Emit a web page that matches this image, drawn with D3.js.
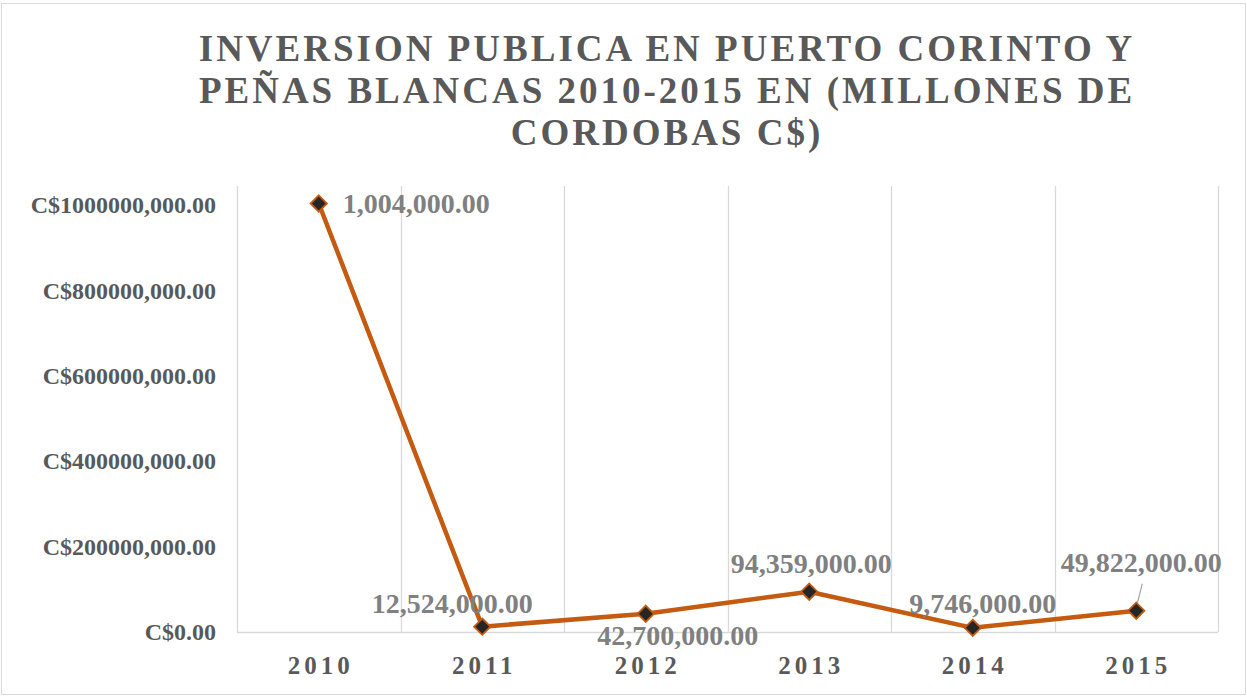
<!DOCTYPE html>
<html>
<head>
<meta charset="utf-8">
<script src="https://cdn.jsdelivr.net/npm/d3@7"></script>
<style>
  html, body { margin: 0; padding: 0; background: #ffffff; }
  svg { display: block; }
</style>
</head>
<body>
<svg id="chart" width="1247" height="696"></svg>
<script>
// ---- data ----
const years = ["2010", "2011", "2012", "2013", "2014", "2015"];
const values = [1004000000, 12524000, 42700000, 94359000, 9746000, 49822000];
const valueLabels = ["1,004,000.00", "12,524,000.00", "42,700,000.00", "94,359,000.00", "9,746,000.00", "49,822,000.00"];
const yTickValues = [0, 200000000, 400000000, 600000000, 800000000, 1000000000];
const yTickLabels = ["C$0.00", "C$200000,000.00", "C$400000,000.00", "C$600000,000.00", "C$800000,000.00", "C$1000000,000.00"];
const titleLines = ["INVERSION PUBLICA EN PUERTO CORINTO Y", "PEÑAS BLANCAS 2010-2015 EN (MILLONES DE", "CORDOBAS C$)"];

// ---- layout (label placement relative to point) ----
const labelPlacement = [
  { dx: 24, dy: 10, anchor: "start" },
  { dx: -30, dy: -14, anchor: "middle" },
  { dx: 32, dy: 31, anchor: "middle" },
  { dx: 2, dy: -19, anchor: "middle" },
  { dx: 10, dy: -15, anchor: "middle" },
  { dx: 5, dy: -39, anchor: "middle", leader: true }
];

const svg = d3.select("#chart");
const W = 1247, H = 696;
const plot = { left: 237, right: 1218, top: 186, bottom: 632 };
const serif = "'Liberation Serif', 'Times New Roman', serif";
const lineColor = "#C55A11";
const gridColor = "#d9d9d9";

// outer border
svg.append("rect")
  .attr("x", 1.5).attr("y", 3.5).attr("width", W - 3).attr("height", H - 5)
  .attr("fill", "#fff").attr("stroke", "#d9d9d9").attr("stroke-width", 1);

// title
const title = svg.append("text")
  .attr("font-family", serif).attr("font-weight", "bold")
  .attr("font-size", 37).attr("fill", "#595959")
  .attr("letter-spacing", 3)
  .attr("text-anchor", "middle");
titleLines.forEach((t, i) => {
  title.append("tspan").attr("x", 667).attr("y", 61 + i * 42).text(t);
});

// scales
const x = d3.scaleBand().domain(years).range([plot.left, plot.right]).padding(0);
const y = d3.scaleLinear().domain([0, 1045000000]).range([plot.bottom, plot.top]);
const cx = d => x(d) + x.bandwidth() / 2;

// vertical gridlines at category boundaries
const bounds = years.map(d => x(d)).concat([x(years[years.length - 1]) + x.bandwidth()]);
svg.append("g").selectAll("line").data(bounds).join("line")
  .attr("x1", d => Math.round(d) + 0.5).attr("x2", d => Math.round(d) + 0.5)
  .attr("y1", plot.top).attr("y2", plot.bottom)
  .attr("stroke", gridColor).attr("stroke-width", 1.3);

// baseline
svg.append("line")
  .attr("x1", plot.left).attr("x2", plot.right)
  .attr("y1", y(0) + 0.5).attr("y2", y(0) + 0.5)
  .attr("stroke", gridColor).attr("stroke-width", 1.5);

// y axis
const yAxis = d3.axisLeft(y)
  .tickValues(yTickValues)
  .tickSize(0).tickPadding(21)
  .tickFormat((d) => yTickLabels[yTickValues.indexOf(d)]);
const gy = svg.append("g").attr("transform", `translate(${plot.left},0)`).call(yAxis);
gy.select(".domain").remove();
gy.selectAll("text")
  .attr("font-family", serif).attr("font-weight", "bold")
  .attr("font-size", 24).attr("fill", "#595959");

// x axis
const xAxis = d3.axisBottom(x).tickSize(0).tickPadding(24);
const gx = svg.append("g").attr("transform", `translate(0,${plot.bottom})`).call(xAxis);
gx.select(".domain").remove();
gx.selectAll("text")
  .attr("font-family", serif).attr("font-weight", "bold")
  .attr("font-size", 25).attr("fill", "#595959")
  .attr("letter-spacing", 4)
  .attr("dx", 2);

// line
const pts = years.map((d, i) => ({ year: d, value: values[i], label: valueLabels[i], place: labelPlacement[i] }));
svg.append("path")
  .datum(pts)
  .attr("fill", "none").attr("stroke", lineColor).attr("stroke-width", 4.5)
  .attr("stroke-linejoin", "round").attr("stroke-linecap", "round")
  .attr("d", d3.line().x(d => cx(d.year)).y(d => y(d.value)));

// leader lines
svg.append("g").selectAll("line").data(pts.filter(d => d.place.leader)).join("line")
  .attr("x1", d => cx(d.year) + 6).attr("y1", d => y(d.value) - 27)
  .attr("x2", d => cx(d.year)).attr("y2", d => y(d.value) - 3)
  .attr("stroke", "#a6a6a6").attr("stroke-width", 1.2);

// markers
svg.append("g").selectAll("path").data(pts).join("path")
  .attr("transform", d => `translate(${cx(d.year)},${y(d.value)})`)
  .attr("d", d3.symbol().type(d3.symbolDiamond2).size(170))
  .attr("fill", "#262626").attr("stroke", lineColor).attr("stroke-width", 1.8);

// data labels
svg.append("g").selectAll("text").data(pts).join("text")
  .attr("x", d => cx(d.year) + d.place.dx)
  .attr("y", d => y(d.value) + d.place.dy)
  .attr("text-anchor", d => d.place.anchor)
  .attr("font-family", serif).attr("font-weight", "bold")
  .attr("font-size", 28).attr("fill", "#808080")
  .text(d => d.label);
</script>
</body>
</html>
